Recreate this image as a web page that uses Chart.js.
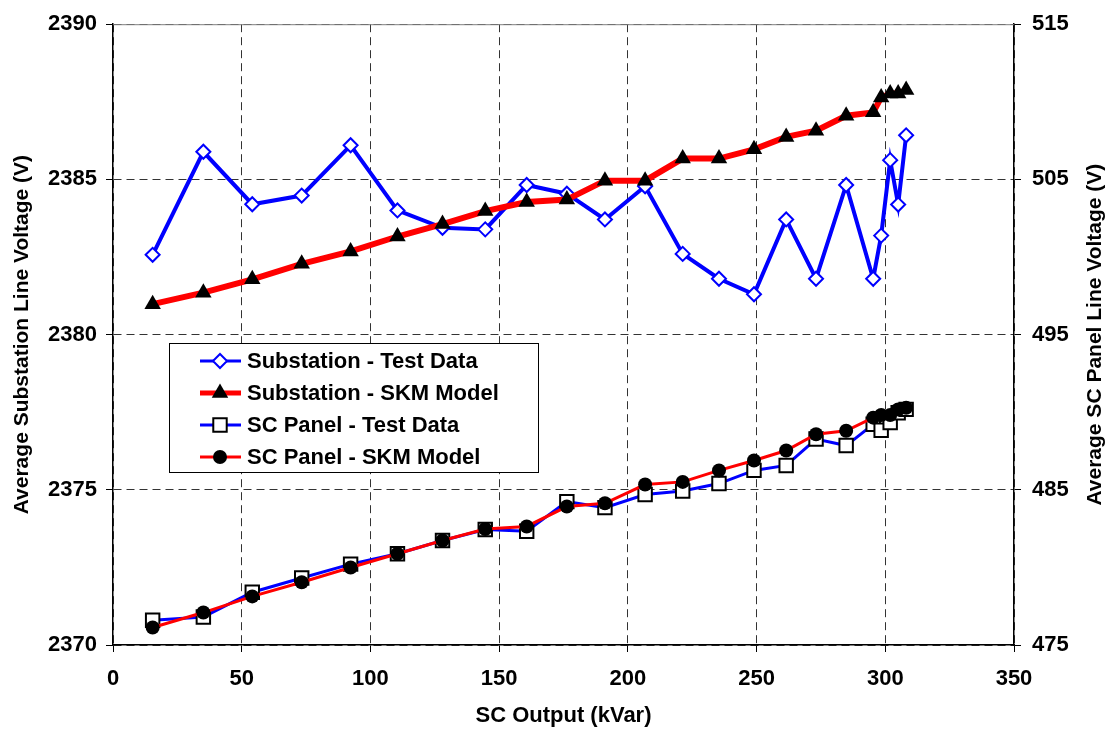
<!DOCTYPE html>
<html>
<head>
<meta charset="utf-8">
<script src="https://cdn.jsdelivr.net/npm/chart.js@4.4.1/dist/chart.umd.min.js"></script>
<style>
  html, body { margin: 0; padding: 0; background: #fff; }
  canvas { display: block; }
</style>
</head>
<body>
<canvas id="chart" width="1110" height="733"></canvas>
<script>
// SC output steps (kVar)
var scOutput = [15.4, 35.1, 54.1, 73.3, 92.3, 110.5, 128.0, 144.6, 160.7, 176.3, 191.1, 206.7,
  221.3, 235.4, 249.0, 261.5, 273.1, 284.8, 295.3, 298.4, 301.9, 305.0, 308.1];

// substation line voltage (V), left axis
var subTest = [2382.57, 2385.89, 2384.20, 2384.48, 2386.10, 2384.00, 2383.44, 2383.39, 2384.82, 2384.54,
  2383.71, 2384.78, 2382.60, 2381.80, 2381.30, 2383.71, 2381.80, 2384.82, 2381.80, 2383.19, 2385.62,
  2384.19, 2386.42];
var subModel = [2380.98, 2381.35, 2381.78, 2382.28, 2382.68, 2383.16, 2383.56, 2383.98, 2384.27, 2384.35,
  2384.96, 2384.96, 2385.67, 2385.67, 2385.97, 2386.37, 2386.57, 2387.05, 2387.16, 2387.64, 2387.77,
  2387.77, 2387.88];

// SC panel line voltage (V), right axis
var panelTest = [476.60, 476.81, 478.40, 479.32, 480.21, 480.88, 481.73, 482.44, 482.33, 484.24, 483.85,
  484.70, 484.92, 485.40, 486.25, 486.57, 488.27, 487.85, 489.22, 488.84, 489.33, 489.97, 490.18];
var panelModel = [476.13, 477.09, 478.13, 479.04, 479.99, 480.88, 481.73, 482.47, 482.64, 483.92, 484.13,
  485.34, 485.51, 486.25, 486.89, 487.53, 488.58, 488.80, 489.65, 489.82, 489.82, 490.18, 490.28];

var seriesLabels = ['Substation - Test Data', 'Substation - SKM Model', 'SC Panel - Test Data', 'SC Panel - SKM Model'];
var xTitle = 'SC Output (kVar)';
var leftTitle = 'Average Substation Line Voltage (V)';
var rightTitle = 'Average SC Panel Line Voltage (V)';

var FONT = "'Liberation Sans', Arial, sans-serif";

function pairs(ys) {
  return ys.map(function (y, i) { return { x: scOutput[i], y: y }; });
}

function plain(v) { return String(v); }

function marker(ctx, style, x, y, r, fill, stroke, lw) {
  ctx.save();
  ctx.beginPath();
  if (style === 'rectRot') {
    ctx.moveTo(x - r, y); ctx.lineTo(x, y - r); ctx.lineTo(x + r, y); ctx.lineTo(x, y + r);
    ctx.closePath();
  } else if (style === 'triangle') {
    ctx.moveTo(x, y - r);
    ctx.lineTo(x + r * 0.866, y + r / 2);
    ctx.lineTo(x - r * 0.866, y + r / 2);
    ctx.closePath();
  } else if (style === 'rect') {
    var s = r * Math.SQRT1_2;
    ctx.rect(x - s, y - s, 2 * s, 2 * s);
  } else {
    ctx.arc(x, y, r, 0, Math.PI * 2);
  }
  ctx.fillStyle = fill;
  ctx.fill();
  if (lw) { ctx.lineWidth = lw; ctx.strokeStyle = stroke; ctx.stroke(); }
  ctx.restore();
}

var framePlugin = {
  id: 'frame',
  beforeDatasetsDraw: function (chart) {
    var a = chart.chartArea, ctx = chart.ctx;
    ctx.save();
    ctx.strokeStyle = '#808080';
    ctx.lineWidth = 1;
    ctx.beginPath();
    ctx.moveTo(a.left, a.top + 0.5);
    ctx.lineTo(a.right, a.top + 0.5);
    ctx.stroke();
    ctx.restore();
  }
};

var boxLegend = {
  id: 'boxLegend',
  afterDraw: function (chart) {
    var ctx = chart.ctx;
    var bx = 169, by = 343, bw = 369, bh = 129;
    ctx.save();
    ctx.fillStyle = '#fff';
    ctx.fillRect(bx, by, bw, bh);
    ctx.strokeStyle = '#000';
    ctx.lineWidth = 1;
    ctx.strokeRect(bx + 0.5, by + 0.5, bw, bh);
    var rows = [361, 393, 425, 457];
    var widths = [3, 5, 3, 3];
    chart.data.datasets.forEach(function (ds, i) {
      var y = rows[i];
      ctx.strokeStyle = ds.borderColor;
      ctx.lineWidth = widths[i];
      ctx.beginPath();
      ctx.moveTo(200, y);
      ctx.lineTo(241, y);
      ctx.stroke();
      marker(ctx, ds.pointStyle, 220, y, ds.pointRadius, ds.pointBackgroundColor, ds.pointBorderColor, ds.pointBorderWidth);
      ctx.fillStyle = '#000';
      ctx.font = 'bold 22px ' + FONT;
      ctx.textBaseline = 'middle';
      ctx.textAlign = 'left';
      ctx.fillText(ds.label, 247, y + 1);
    });
    // right axis title, reading bottom to top like the left one
    var a = chart.chartArea;
    ctx.translate(1095, (a.top + a.bottom) / 2);
    ctx.rotate(-Math.PI / 2);
    ctx.font = 'bold 21px ' + FONT;
    ctx.textAlign = 'center';
    ctx.textBaseline = 'middle';
    ctx.fillText(rightTitle, 0, 0);
    ctx.restore();
  }
};

var tickFont = { family: FONT, size: 22, weight: 'bold' };

new Chart(document.getElementById('chart'), {
  type: 'scatter',
  data: {
    datasets: [{
      label: seriesLabels[0],
      data: pairs(subTest),
      yAxisID: 'y',
      showLine: true,
      borderColor: '#0000ff',
      borderWidth: 4,
      pointStyle: 'rectRot',
      pointRadius: 7,
      pointBackgroundColor: '#ffffff',
      pointBorderColor: '#0000ff',
      pointBorderWidth: 2,
      order: 4
    }, {
      label: seriesLabels[1],
      data: pairs(subModel),
      yAxisID: 'y',
      showLine: true,
      borderColor: '#ff0000',
      borderWidth: 6,
      pointStyle: 'triangle',
      pointRadius: 9.5,
      pointBackgroundColor: '#000000',
      pointBorderColor: '#000000',
      pointBorderWidth: 0,
      order: 3
    }, {
      label: seriesLabels[2],
      data: pairs(panelTest),
      yAxisID: 'y2',
      showLine: true,
      borderColor: '#0000ff',
      borderWidth: 3,
      pointStyle: 'rect',
      pointRadius: 9.5,
      pointBackgroundColor: '#ffffff',
      pointBorderColor: '#000000',
      pointBorderWidth: 2,
      order: 2
    }, {
      label: seriesLabels[3],
      data: pairs(panelModel),
      yAxisID: 'y2',
      showLine: true,
      borderColor: '#ff0000',
      borderWidth: 3,
      pointStyle: 'circle',
      pointRadius: 7,
      pointBackgroundColor: '#000000',
      pointBorderColor: '#000000',
      pointBorderWidth: 0,
      order: 1
    }]
  },
  options: {
    responsive: false,
    animation: false,
    devicePixelRatio: 1,
    layout: { padding: { top: 17, left: 0, right: 0, bottom: 0 } },
    plugins: {
      legend: { display: false },
      tooltip: { enabled: false }
    },
    scales: {
      x: {
        type: 'linear',
        min: 0, max: 350,
        ticks: { stepSize: 50, color: '#000', font: tickFont, padding: 14, maxRotation: 0, callback: plain },
        grid: { color: '#333333', tickColor: '#000', tickLength: 7, lineWidth: 1 },
        border: { display: true, color: '#000', width: 1.5, dash: [8, 5] },
        title: { display: true, text: xTitle, color: '#000', font: tickFont, padding: { top: 0, bottom: 4 } },
        afterFit: function (s) { s.height = 88; }
      },
      y: {
        position: 'left',
        min: 2370, max: 2390,
        ticks: { stepSize: 5, color: '#000', font: tickFont, padding: 9, callback: plain },
        grid: { color: '#333333', tickColor: '#000', tickLength: 7, lineWidth: 1 },
        border: { display: true, color: '#000', width: 1.5, dash: [8, 5] },
        title: { display: true, text: leftTitle, color: '#000', font: { family: FONT, size: 21, weight: 'bold' }, padding: { top: 10, bottom: 0 } },
        afterFit: function (s) { s.width = 113; }
      },
      y2: {
        position: 'right',
        min: 475, max: 515,
        ticks: { stepSize: 10, color: '#000', font: tickFont, padding: 11, callback: plain },
        grid: { drawOnChartArea: false, tickColor: '#000', tickLength: 7 },
        border: { display: true, color: '#000', width: 1.5 },
        afterFit: function (s) { s.width = 96; }
      }
    }
  },
  plugins: [framePlugin, boxLegend]
});
</script>
</body>
</html>
